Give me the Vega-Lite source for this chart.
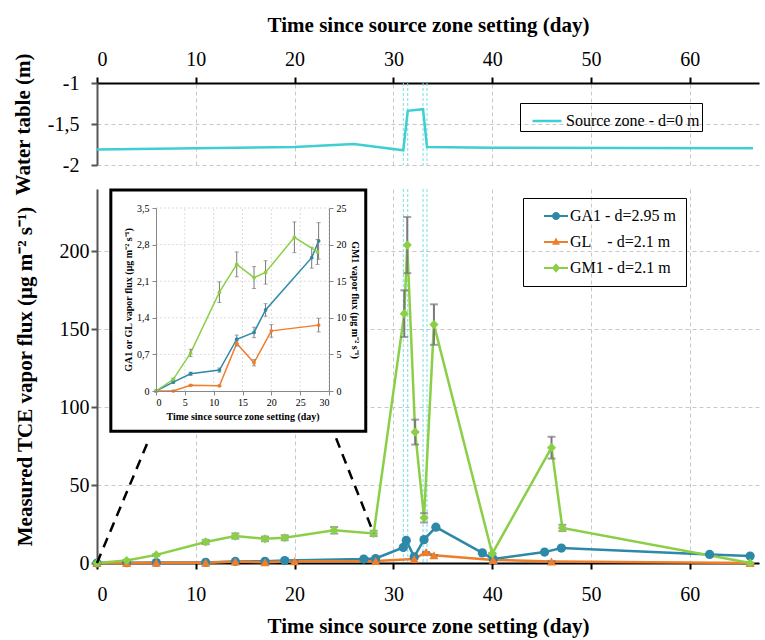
{
  "$schema": "https://vega.github.io/schema/vega-lite/v6.json",
  "background": "white",
  "padding": {"left": 12, "top": 14, "right": 2, "bottom": 2},
  "config": {
    "font": "Liberation Serif",
    "view": {"stroke": null},
    "axis": {
      "gridColor": "#c8c8c8", "gridDash": [4, 3], "gridWidth": 1,
      "labelFontSize": 20, "labelColor": "black",
      "titleFontSize": 21, "titleFontWeight": "bold", "titleColor": "black",
      "domainColor": "#555", "domainWidth": 2, "tickColor": "#555", "tickWidth": 2, "tickSize": 6
    }
  },
  "datasets": {
    "flux": [
      {"series": "GA1", "day": 0, "flux": 0, "err": 0},
      {"series": "GA1", "day": 3, "flux": 0.17, "err": 0.02},
      {"series": "GA1", "day": 6, "flux": 0.33, "err": 0.03},
      {"series": "GA1", "day": 11, "flux": 0.40, "err": 0.04},
      {"series": "GA1", "day": 14, "flux": 0.99, "err": 0.08},
      {"series": "GA1", "day": 17, "flux": 1.12, "err": 0.1},
      {"series": "GA1", "day": 19, "flux": 1.55, "err": 0.12},
      {"series": "GA1", "day": 27, "flux": 2.55, "err": 0.2},
      {"series": "GA1", "day": 28.2, "flux": 2.87, "err": 0.35},
      {"series": "GA1", "day": 31, "flux": 10, "err": 0},
      {"series": "GA1", "day": 31.3, "flux": 14.5, "err": 0},
      {"series": "GA1", "day": 32.1, "flux": 4, "err": 0},
      {"series": "GA1", "day": 33.1, "flux": 15, "err": 0},
      {"series": "GA1", "day": 34.3, "flux": 23, "err": 0},
      {"series": "GA1", "day": 39, "flux": 6.5, "err": 0},
      {"series": "GA1", "day": 40.1, "flux": 2.5, "err": 0},
      {"series": "GA1", "day": 45.3, "flux": 7, "err": 0},
      {"series": "GA1", "day": 47, "flux": 9.6, "err": 0},
      {"series": "GA1", "day": 62, "flux": 5.5, "err": 0},
      {"series": "GA1", "day": 66.1, "flux": 4.5, "err": 0},
      {"series": "GL", "day": 0, "flux": 0, "err": 0},
      {"series": "GL", "day": 3, "flux": 0, "err": 0},
      {"series": "GL", "day": 6, "flux": 0.11, "err": 0.01},
      {"series": "GL", "day": 11, "flux": 0.10, "err": 0.01},
      {"series": "GL", "day": 14, "flux": 0.91, "err": 0.05},
      {"series": "GL", "day": 17, "flux": 0.54, "err": 0.06},
      {"series": "GL", "day": 20, "flux": 1.15, "err": 0.12},
      {"series": "GL", "day": 28.2, "flux": 1.26, "err": 0.13},
      {"series": "GL", "day": 32.1, "flux": 2.5, "err": 0},
      {"series": "GL", "day": 33.3, "flux": 7, "err": 0},
      {"series": "GL", "day": 34.1, "flux": 5, "err": 0},
      {"series": "GL", "day": 40.1, "flux": 2, "err": 0},
      {"series": "GL", "day": 46, "flux": 1, "err": 0},
      {"series": "GL", "day": 66.1, "flux": 0, "err": 0},
      {"series": "GM1", "day": 0, "flux": 0, "err": 0},
      {"series": "GM1", "day": 3, "flux": 1.6, "err": 0.15},
      {"series": "GM1", "day": 6, "flux": 5.2, "err": 0.5},
      {"series": "GM1", "day": 11, "flux": 13.5, "err": 1.4},
      {"series": "GM1", "day": 14, "flux": 17.3, "err": 1.7},
      {"series": "GM1", "day": 17, "flux": 15.5, "err": 1.5},
      {"series": "GM1", "day": 19, "flux": 16.2, "err": 1.6},
      {"series": "GM1", "day": 24, "flux": 21, "err": 2.1},
      {"series": "GM1", "day": 28, "flux": 19, "err": 1.7},
      {"series": "GM1", "day": 31.1, "flux": 160, "err": 15},
      {"series": "GM1", "day": 31.4, "flux": 204, "err": 18},
      {"series": "GM1", "day": 32.2, "flux": 84, "err": 8},
      {"series": "GM1", "day": 33.1, "flux": 29, "err": 3},
      {"series": "GM1", "day": 34.1, "flux": 153, "err": 13},
      {"series": "GM1", "day": 40, "flux": 6, "err": 0.5},
      {"series": "GM1", "day": 46, "flux": 74, "err": 7},
      {"series": "GM1", "day": 47.1, "flux": 22.5, "err": 2},
      {"series": "GM1", "day": 66.1, "flux": 0, "err": 0}
    ],
    "watertable": [
      {"day": 0, "level": -1.81},
      {"day": 20, "level": -1.78},
      {"day": 26, "level": -1.743},
      {"day": 31, "level": -1.82},
      {"day": 31.45, "level": -1.34},
      {"day": 33, "level": -1.32},
      {"day": 33.4, "level": -1.78},
      {"day": 40, "level": -1.79},
      {"day": 66.4, "level": -1.795}
    ],
    "events": [{"day": 31.0}, {"day": 31.45}, {"day": 33.0}, {"day": 33.4}],
    "zoomlines": [
      {"seg": "a", "day": 0, "flux": 0},
      {"seg": "a", "day": 5.3, "flux": 80},
      {"seg": "b", "day": 28, "flux": 19},
      {"seg": "b", "day": 24.2, "flux": 80}
    ],
    "insetgridx": [{"g": 5}, {"g": 10}, {"g": 15}, {"g": 20}, {"g": 25}, {"g": 30}],
    "insetgridy": [{"g": 0.7}, {"g": 1.4}, {"g": 2.1}, {"g": 2.8}, {"g": 3.5}]
  },
  "spacing": 24,
  "bounds": "flush",
  "resolve": {
    "scale": {"x": "independent", "y": "independent", "color": "independent", "shape": "independent"},
    "legend": {"color": "independent", "shape": "independent"}
  },
  "vconcat": [
    {
      "width": 662,
      "height": 82,
      "encoding": {
        "x": {
          "field": "day", "type": "quantitative",
          "scale": {"domain": [0, 67], "nice": false},
          "title": "Time since source zone setting (day)",
          "axis": {"orient": "top", "values": [0, 10, 20, 30, 40, 50, 60], "domainColor": "black", "tickColor": "black", "labelPadding": 8, "titlePadding": 14, "grid": true}
        }
      },
      "layer": [
        {
          "data": {"name": "events"},
          "mark": {"type": "rule", "color": "#78dce4", "strokeDash": [3, 2], "strokeWidth": 1}
        },
        {
          "data": {"name": "watertable"},
          "mark": {"type": "line", "strokeWidth": 2.5},
          "encoding": {
            "y": {
              "field": "level", "type": "quantitative",
              "scale": {"domain": [-2, -1], "nice": false},
              "title": "Water table (m)",
              "axis": {"values": [-2, -1.5, -1], "labelExpr": "replace(toString(datum.value), '.', ',')", "labelPadding": 12, "titlePadding": 14, "grid": true}
            },
            "color": {
              "datum": "Source zone - d=0 m", "type": "nominal",
              "scale": {"range": ["#3fcfd2"]},
              "legend": {"orient": "none", "legendX": 423, "legendY": 20, "title": null, "labelFontSize": 16, "symbolType": "stroke", "symbolSize": 841, "symbolStrokeWidth": 2.5, "symbolOffset": 9, "labelOffset": 3, "padding": 2, "strokeColor": "black"}
            }
          }
        }
      ]
    },
    {
      "width": 662,
      "height": 374,
      "resolve": {
        "scale": {"x": "independent", "y": "independent", "color": "independent", "shape": "independent"},
        "legend": {"color": "independent", "shape": "independent"}
      },
      "layer": [
        {
          "resolve": {"scale": {"color": "independent", "shape": "independent"}},
          "encoding": {
            "x": {
              "field": "day", "type": "quantitative",
              "scale": {"domain": [0, 67], "nice": false},
              "title": "Time since source zone setting (day)",
              "axis": {"orient": "bottom", "values": [0, 10, 20, 30, 40, 50, 60], "domainColor": "black", "tickColor": "black", "labelPadding": 15, "titlePadding": 11, "grid": true}
            }
          },
          "layer": [
            {
              "data": {"name": "events"},
              "mark": {"type": "rule", "color": "#78dce4", "strokeDash": [3, 2], "strokeWidth": 1}
            },
            {
              "data": {"name": "flux"},
              "mark": {"type": "line", "strokeWidth": 2.5},
              "encoding": {
                "y": {"field": "flux", "type": "quantitative", "scale": {"domain": [0, 240], "nice": false}, "title": "Measured TCE vapor flux (μg m⁻² s⁻¹)", "axis": {"orient": "left", "values": [0, 50, 100, 150, 200], "labelPadding": 2, "titlePadding": 24, "grid": true}},
                "color": {"field": "series", "type": "nominal", "scale": {"domain": ["GA1", "GL", "GM1"], "range": ["#2e88a8", "#f07d2a", "#8bcf46"]}, "legend": null}
              }
            },
            {
              "data": {"name": "flux"},
              "mark": {"type": "errorbar", "color": "#7a7a7a", "thickness": 2, "ticks": {"size": 8, "thickness": 2}},
              "encoding": {
                "y": {"field": "flux", "type": "quantitative", "scale": {"domain": [0, 240], "nice": false}, "title": "Measured TCE vapor flux (μg m⁻² s⁻¹)"},
                "yError": {"field": "err"}
              }
            },
            {
              "data": {"name": "flux"},
              "mark": {"type": "point", "filled": true, "opacity": 1, "size": 85},
              "encoding": {
                "y": {"field": "flux", "type": "quantitative", "scale": {"domain": [0, 240], "nice": false}, "title": "Measured TCE vapor flux (μg m⁻² s⁻¹)"},
                "color": {"field": "series", "type": "nominal", "scale": {"domain": ["GA1", "GL", "GM1"], "range": ["#2e88a8", "#f07d2a", "#8bcf46"]}, "legend": null},
                "shape": {"field": "series", "type": "nominal", "scale": {"domain": ["GA1", "GL", "GM1"], "range": ["circle", "triangle-up", "diamond"]}, "legend": null}
              }
            },
            {
              "data": {"name": "zoomlines"},
              "mark": {"type": "line", "color": "black", "strokeWidth": 2.5, "strokeDash": [10, 7]},
              "encoding": {
                "y": {"field": "flux", "type": "quantitative", "scale": {"domain": [0, 240], "nice": false}, "title": "Measured TCE vapor flux (μg m⁻² s⁻¹)"},
                "detail": {"field": "seg"}
              }
            },
            {
              "data": {"name": "flux"},
              "mark": {"type": "point", "filled": true, "opacity": 0},
              "encoding": {
                "y": {"field": "flux", "type": "quantitative", "scale": {"domain": [0, 240], "nice": false}, "title": "Measured TCE vapor flux (μg m⁻² s⁻¹)"},
                "color": {
                  "field": "series", "type": "nominal",
                  "scale": {"domain": ["GA1", "GL", "GM1"], "range": ["#2e88a8", "#f07d2a", "#8bcf46"]},
                  "legend": {"orient": "none", "legendX": 426, "legendY": 9, "title": null, "labelFontSize": 16, "symbolSize": 256, "symbolOffset": 15, "labelOffset": 6, "padding": 10, "rowPadding": 10, "strokeColor": "black", "symbolOpacity": 1, "symbolStrokeWidth": 0,
                    "labelExpr": "datum.label == 'GA1' ? 'GA1 - d=2.95 m' : datum.label == 'GL' ? 'GL\u00a0\u00a0\u00a0 - d=2.1 m' : 'GM1 - d=2.1 m'"}
                },
                "shape": {
                  "field": "series", "type": "nominal",
                  "scale": {"domain": ["GA1", "GL", "GM1"], "range": [
                    "M-1.5,-0.13H1.5V0.13H-1.5Z M-0.5,0A0.5,0.5 0 1,1 0.5,0A0.5,0.5 0 1,1 -0.5,0Z",
                    "M-1.5,-0.13H1.5V0.13H-1.5Z M0,-0.55L0.5,0.35L-0.5,0.35Z",
                    "M-1.5,-0.13H1.5V0.13H-1.5Z M0,-0.6L0.5,0L0,0.6L-0.5,0Z"
                  ]},
                  "legend": {"orient": "none", "legendX": 426, "legendY": 9, "title": null, "labelFontSize": 16, "symbolSize": 256, "symbolOffset": 15, "labelOffset": 6, "padding": 10, "rowPadding": 10, "strokeColor": "black", "symbolOpacity": 1, "symbolStrokeWidth": 0,
                    "labelExpr": "datum.label == 'GA1' ? 'GA1 - d=2.95 m' : datum.label == 'GL' ? 'GL\u00a0\u00a0\u00a0 - d=2.1 m' : 'GM1 - d=2.1 m'"}
                }
              }
            }
          ]
        },
        {
          "data": {"values": [{}]},
          "mark": {"type": "rect", "fill": "white", "stroke": "black", "strokeWidth": 3},
          "encoding": {
            "x": {"datum": 1.4, "type": "quantitative", "scale": {"domain": [0, 67], "nice": false}, "axis": null},
            "x2": {"datum": 27.2},
            "y": {"datum": 84.6, "type": "quantitative", "scale": {"domain": [0, 240], "nice": false}, "axis": null},
            "y2": {"datum": 239.4}
          }
        },
        {
          "resolve": {"scale": {"y": "independent", "color": "independent", "shape": "independent"}},
          "layer": [
            {
              "layer": [
                {
                  "data": {"name": "insetgridx"},
                  "mark": {"type": "rule", "color": "#dddddd", "strokeWidth": 1, "strokeDash": [2, 2]},
                  "encoding": {
                    "x": {"field": "g", "type": "quantitative", "scale": {"domain": [0, 30], "nice": false, "range": [59, 232]}, "title": "Time since source zone setting (day)",
                      "axis": {"orient": "bottom", "offset": -172, "zindex": 2, "values": [0, 5, 10, 15, 20, 25, 30], "labelFontSize": 10, "titleFontSize": 10, "domainColor": "#888", "domainWidth": 1, "tickColor": "#888", "tickWidth": 1, "tickSize": 4, "labelPadding": 2, "titlePadding": 4, "grid": false}},
                    "y": {"datum": 0, "type": "quantitative"},
                    "y2": {"datum": 3.5}
                  }
                },
                {
                  "data": {"name": "insetgridy"},
                  "mark": {"type": "rule", "color": "#dddddd", "strokeWidth": 1, "strokeDash": [2, 2]},
                  "encoding": {
                    "x": {"datum": 0, "type": "quantitative"},
                    "x2": {"datum": 30},
                    "y": {"field": "g", "type": "quantitative", "title": "GA1 or GL vapor flux (μg m⁻² s⁻¹)"}
                  }
                },
                {
                  "data": {"name": "flux"},
                  "transform": [{"filter": "datum.day < 29 && datum.series != 'GM1'"}],
                  "mark": {"type": "line", "strokeWidth": 1.5},
                  "encoding": {
                    "x": {"field": "day", "type": "quantitative", "title": "Time since source zone setting (day)"},
                    "y": {"field": "flux", "type": "quantitative", "scale": {"domain": [0, 3.5], "nice": false, "range": [202, 19]}, "title": "GA1 or GL vapor flux (μg m⁻² s⁻¹)",
                      "axis": {"orient": "left", "offset": -59, "zindex": 2, "values": [0, 0.7, 1.4, 2.1, 2.8, 3.5], "labelExpr": "replace(toString(datum.value), '.', ',')", "labelFontSize": 10, "titleFontSize": 10, "domainColor": "#888", "domainWidth": 1, "tickColor": "#888", "tickWidth": 1, "tickSize": 4, "labelPadding": 3, "titlePadding": 3, "grid": false}},
                    "color": {"field": "series", "type": "nominal", "scale": {"domain": ["GA1", "GL", "GM1"], "range": ["#2e88a8", "#f07d2a", "#8bcf46"]}, "legend": null}
                  }
                },
                {
                  "data": {"name": "flux"},
                  "transform": [{"filter": "datum.day < 29 && datum.series != 'GM1'"}],
                  "mark": {"type": "errorbar", "color": "#7a7a7a", "thickness": 1, "ticks": {"size": 4, "thickness": 1}},
                  "encoding": {
                    "x": {"field": "day", "type": "quantitative", "title": "Time since source zone setting (day)"},
                    "y": {"field": "flux", "type": "quantitative", "title": "GA1 or GL vapor flux (μg m⁻² s⁻¹)"},
                    "yError": {"field": "err"}
                  }
                },
                {
                  "data": {"name": "flux"},
                  "transform": [{"filter": "datum.day < 29 && datum.series != 'GM1'"}],
                  "mark": {"type": "point", "filled": true, "opacity": 1, "size": 14},
                  "encoding": {
                    "x": {"field": "day", "type": "quantitative", "title": "Time since source zone setting (day)"},
                    "y": {"field": "flux", "type": "quantitative", "title": "GA1 or GL vapor flux (μg m⁻² s⁻¹)"},
                    "color": {"field": "series", "type": "nominal", "scale": {"domain": ["GA1", "GL", "GM1"], "range": ["#2e88a8", "#f07d2a", "#8bcf46"]}, "legend": null}
                  }
                }
              ]
            },
            {
              "data": {"name": "flux"},
              "transform": [{"filter": "datum.day < 29 && datum.series == 'GM1'"}],
              "encoding": {
                "x": {"field": "day", "type": "quantitative", "title": "Time since source zone setting (day)"}
              },
              "layer": [
                {
                  "mark": {"type": "line", "strokeWidth": 1.5, "color": "#8bcf46"},
                  "encoding": {
                    "y": {"field": "flux", "type": "quantitative", "scale": {"domain": [0, 25], "nice": false, "range": [202, 19]}, "title": "GM1 vapor flux (μg m⁻² s⁻¹)",
                      "axis": {"orient": "right", "offset": -430, "zindex": 2, "values": [0, 5, 10, 15, 20, 25], "labelFontSize": 10, "titleFontSize": 10, "domainColor": "#888", "domainWidth": 1, "tickColor": "#888", "tickWidth": 1, "tickSize": 4, "labelPadding": 3, "titlePadding": 3, "grid": false}}
                  }
                },
                {
                  "mark": {"type": "errorbar", "color": "#7a7a7a", "thickness": 1, "ticks": {"size": 4, "thickness": 1}},
                  "encoding": {
                    "y": {"field": "flux", "type": "quantitative", "title": "GM1 vapor flux (μg m⁻² s⁻¹)"},
                    "yError": {"field": "err"}
                  }
                },
                {
                  "mark": {"type": "point", "filled": true, "opacity": 1, "size": 14, "color": "#8bcf46"},
                  "encoding": {
                    "y": {"field": "flux", "type": "quantitative", "title": "GM1 vapor flux (μg m⁻² s⁻¹)"}
                  }
                }
              ]
            }
          ]
        }
      ]
    }
  ]
}
